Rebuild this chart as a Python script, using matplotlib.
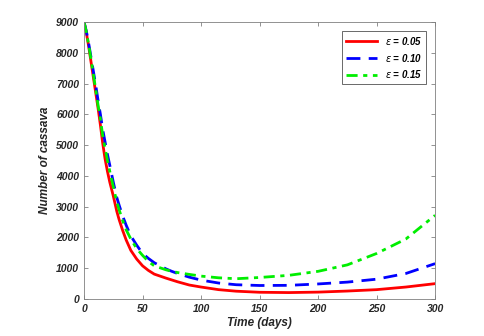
import matplotlib
matplotlib.use("Agg")
import matplotlib.pyplot as plt

t = [0, 2, 4, 6, 8, 10, 12, 14, 16, 18, 20, 22, 25, 28, 30, 33, 36, 40, 45, 50, 55, 60,
     70, 75, 80, 90, 100, 115, 130, 150, 175, 200, 225, 250, 275, 300]
eps_005 = [9000, 8650, 8200, 7700, 7200, 6700, 6200, 5650, 5050, 4550, 4150, 3800, 3350, 2850, 2580, 2230, 1920, 1580, 1300, 1080, 930, 810,
           680, 620, 560, 455, 390, 305, 255, 220, 210, 225, 260, 305, 390, 500]
eps_010 = [9000, 8700, 8300, 7850, 7400, 6950, 6450, 6000, 5500, 5100, 4700, 4350, 3800, 3300, 3050, 2700, 2400, 2050, 1750, 1480, 1320, 1180,
           980, 900, 830, 710, 615, 520, 465, 440, 445, 490, 550, 645, 830, 1150]
eps_015 = [9000, 8680, 8260, 7780, 7300, 6800, 6300, 5850, 5300, 4900, 4500, 4150, 3650, 3150, 2900, 2550, 2250, 1950, 1640, 1420, 1220, 1080,
           950, 900, 860, 800, 745, 690, 660, 700, 770, 900, 1110, 1480, 1950, 2720]
labels = [r"$\epsilon$ = 0.05", r"$\epsilon$ = 0.10", r"$\epsilon$ = 0.15"]

plt.rcParams["font.family"] = ["Liberation Sans", "DejaVu Sans"]

fig = plt.figure(figsize=(4.84, 3.36), dpi=100)
ax = fig.add_axes([0.1736, 0.110, 0.7254, 0.8245])

ax.plot(t, eps_005, color="red", lw=2, ls="-", label=labels[0])
ax.plot(t, eps_010, color="blue", lw=2, ls=(0, (5, 3)), label=labels[1])
ax.plot(t, eps_015, color="#00ee00", lw=2, ls=(0, (4, 2, 1.5, 2)), label=labels[2])

ax.set_xlim(0, 300)
ax.set_ylim(0, 9000)
ax.set_xticks(range(0, 301, 50))
ax.set_yticks(range(0, 9001, 1000))
ax.tick_params(direction="in", top=True, right=True, length=3, colors="#808080",
               labelcolor="#262626", labelsize=7.5, width=0.6)
for lab in ax.get_xticklabels() + ax.get_yticklabels():
    lab.set_fontweight("bold")
    lab.set_fontstyle("italic")
for s in ax.spines.values():
    s.set_color("#808080")
    s.set_linewidth(0.6)

ax.set_xlabel("Time (days)", fontsize=8.5, fontweight="bold", fontstyle="italic", color="#262626", labelpad=2)
ax.set_ylabel("Number of cassava", fontsize=8.5, fontweight="bold", fontstyle="italic", color="#262626", labelpad=4)

leg = ax.legend(loc="upper right", frameon=True, fancybox=False,
                edgecolor="#262626", handlelength=3.2, borderaxespad=0.9,
                prop={"weight": "bold", "style": "italic", "size": 7})
leg.get_frame().set_linewidth(0.6)

fig.savefig("out.png", dpi=100)
